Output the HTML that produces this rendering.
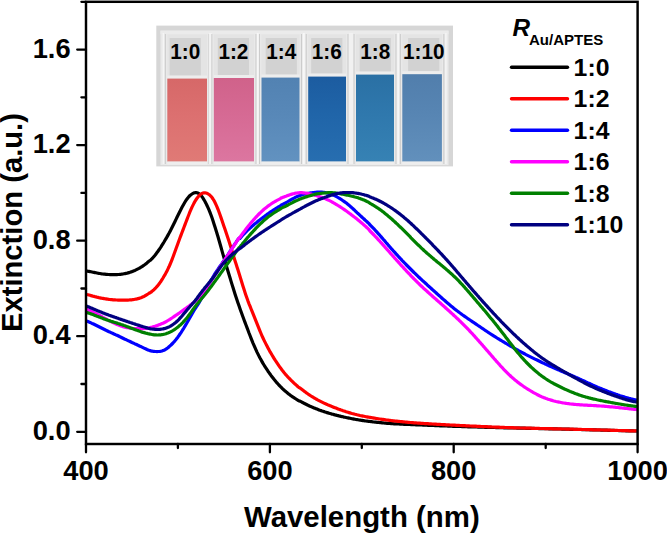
<!DOCTYPE html>
<html><head><meta charset="utf-8"><style>
html,body{margin:0;padding:0;background:#fff;}
body{width:667px;height:534px;overflow:hidden;position:relative;}
svg{position:absolute;left:0;top:0;}
text{font-family:"Liberation Sans",sans-serif;font-weight:bold;fill:#000;}
.tl{font-size:27.3px;}
.lg{font-size:24.8px;}
.cl{font-size:22.3px;}
.curves path{fill:none;stroke-width:3.2;stroke-linejoin:round;stroke-linecap:butt;}
</style></head><body>
<svg width="667" height="534" viewBox="0 0 667 534">
<g class="curves">
<path d="M86.0,270.9 L87.0,271.1 L88.0,271.3 L89.0,271.4 L90.0,271.6 L91.0,271.8 L92.0,272.0 L93.0,272.2 L94.0,272.4 L95.0,272.6 L96.0,272.8 L97.0,273.0 L98.0,273.2 L99.0,273.4 L100.0,273.5 L101.0,273.7 L102.0,273.9 L103.0,274.0 L104.0,274.1 L105.0,274.2 L106.0,274.3 L107.0,274.4 L108.0,274.5 L109.0,274.5 L110.0,274.6 L111.0,274.6 L112.0,274.6 L113.0,274.6 L114.0,274.6 L115.0,274.6 L116.0,274.6 L117.0,274.6 L118.0,274.5 L119.0,274.5 L120.0,274.4 L121.0,274.3 L122.0,274.1 L123.0,274.0 L124.0,273.8 L125.0,273.6 L126.0,273.4 L127.0,273.2 L128.0,272.9 L129.0,272.6 L130.0,272.3 L131.0,271.9 L132.0,271.6 L133.0,271.2 L134.0,270.8 L135.0,270.4 L136.0,269.9 L137.0,269.4 L138.0,268.9 L139.0,268.4 L140.0,267.8 L141.0,267.2 L142.0,266.6 L143.0,265.9 L144.0,265.2 L145.0,264.5 L146.0,263.7 L147.0,262.9 L148.0,262.0 L149.0,261.1 L150.0,260.5 L151.0,259.7 L152.0,258.7 L153.0,257.6 L154.0,256.4 L155.0,255.2 L156.0,253.9 L157.0,252.6 L158.0,251.2 L159.0,249.8 L160.0,248.3 L161.0,246.8 L162.0,245.2 L163.0,243.6 L164.0,242.0 L165.0,240.3 L166.0,238.6 L167.0,236.9 L168.0,235.1 L169.0,233.3 L170.0,231.4 L171.0,229.5 L172.0,227.5 L173.0,225.5 L174.0,223.5 L175.0,221.5 L176.0,219.4 L177.0,217.3 L178.0,215.3 L179.0,213.2 L180.0,211.2 L181.0,209.2 L182.0,207.3 L183.0,205.5 L184.0,203.7 L185.0,202.0 L186.0,200.4 L187.0,199.0 L188.0,197.7 L189.0,196.5 L190.0,195.5 L191.0,194.7 L192.0,194.0 L193.0,193.4 L194.0,192.9 L195.0,192.7 L196.0,192.6 L197.0,192.8 L198.0,193.1 L199.0,193.7 L200.0,194.5 L201.0,195.5 L202.0,196.7 L203.0,198.2 L204.0,199.8 L205.0,201.5 L206.0,203.4 L207.0,205.5 L208.0,207.6 L209.0,209.9 L210.0,212.4 L211.0,215.0 L212.0,217.8 L213.0,220.8 L214.0,223.9 L215.0,227.1 L216.0,230.3 L217.0,233.5 L218.0,236.8 L219.0,240.3 L220.0,243.8 L221.0,247.3 L222.0,250.9 L223.0,254.4 L224.0,257.8 L225.0,261.2 L226.0,264.6 L227.0,267.9 L228.0,271.3 L229.0,274.5 L230.0,277.8 L231.0,281.1 L232.0,284.4 L233.0,287.6 L234.0,290.8 L235.0,294.0 L236.0,297.0 L237.0,300.0 L238.0,302.9 L239.0,305.8 L240.0,308.7 L241.0,311.5 L242.0,314.3 L243.0,317.0 L244.0,319.7 L245.0,322.4 L246.0,325.0 L247.0,327.6 L248.0,330.3 L249.0,333.0 L250.0,335.5 L251.0,338.1 L252.0,340.6 L253.0,343.1 L254.0,345.4 L255.0,347.7 L256.0,349.9 L257.0,352.1 L258.0,354.1 L259.0,356.1 L260.0,358.0 L261.0,359.8 L262.0,361.6 L263.0,363.4 L264.0,365.0 L265.0,366.7 L266.0,368.2 L267.0,369.7 L268.0,371.2 L269.0,372.6 L270.0,374.0 L271.0,375.4 L272.0,376.7 L273.0,378.0 L274.0,379.3 L275.0,380.5 L276.0,381.7 L277.0,382.9 L278.0,384.0 L279.0,385.1 L280.0,386.2 L281.0,387.2 L282.0,388.2 L283.0,389.1 L284.0,390.1 L285.0,390.9 L286.0,391.8 L287.0,392.6 L288.0,393.4 L289.0,394.2 L290.0,394.9 L291.0,395.7 L292.0,396.4 L293.0,397.1 L294.0,397.7 L295.0,398.4 L296.0,399.0 L297.0,399.7 L298.0,400.3 L299.0,400.9 L300.0,401.1 L301.0,401.6 L302.0,402.2 L303.0,402.7 L304.0,403.3 L305.0,403.8 L306.0,404.3 L307.0,404.8 L308.0,405.3 L309.0,405.7 L310.0,406.2 L311.0,406.6 L312.0,407.1 L313.0,407.5 L314.0,407.9 L315.0,408.3 L316.0,408.7 L317.0,409.1 L318.0,409.5 L319.0,409.9 L320.0,410.3 L321.0,410.6 L322.0,411.0 L323.0,411.3 L324.0,411.6 L325.0,412.0 L326.0,412.3 L327.0,412.6 L328.0,412.9 L329.0,413.2 L330.0,413.5 L331.0,413.8 L332.0,414.1 L333.0,414.3 L334.0,414.6 L335.0,414.9 L336.0,415.1 L337.0,415.4 L338.0,415.6 L339.0,415.9 L340.0,416.1 L341.0,416.4 L342.0,416.6 L343.0,416.8 L344.0,417.1 L345.0,417.3 L346.0,417.5 L347.0,417.7 L348.0,417.9 L349.0,418.1 L350.0,418.3 L351.0,418.5 L352.0,418.7 L353.0,418.9 L354.0,419.1 L355.0,419.3 L356.0,419.5 L357.0,419.6 L358.0,419.8 L359.0,420.0 L360.0,420.1 L361.0,420.3 L362.0,420.4 L363.0,420.6 L364.0,420.7 L365.0,420.9 L366.0,421.0 L367.0,421.1 L368.0,421.3 L369.0,421.4 L370.0,421.5 L371.0,421.6 L372.0,421.7 L373.0,421.9 L374.0,422.0 L375.0,422.1 L376.0,422.2 L377.0,422.3 L378.0,422.4 L379.0,422.5 L380.0,422.6 L381.0,422.7 L382.0,422.8 L383.0,422.9 L384.0,423.0 L385.0,423.1 L386.0,423.2 L387.0,423.3 L388.0,423.3 L389.0,423.4 L390.0,423.5 L391.0,423.6 L392.0,423.6 L393.0,423.7 L394.0,423.8 L395.0,423.8 L396.0,423.9 L397.0,423.9 L398.0,424.0 L399.0,424.0 L400.0,424.1 L401.0,424.1 L402.0,424.2 L403.0,424.2 L404.0,424.3 L405.0,424.3 L406.0,424.3 L407.0,424.4 L408.0,424.4 L409.0,424.5 L410.0,424.5 L411.0,424.6 L412.0,424.6 L413.0,424.6 L414.0,424.7 L415.0,424.7 L416.0,424.8 L417.0,424.8 L418.0,424.9 L419.0,424.9 L420.0,424.9 L421.0,425.0 L422.0,425.0 L423.0,425.1 L424.0,425.1 L425.0,425.2 L426.0,425.2 L427.0,425.2 L428.0,425.3 L429.0,425.3 L430.0,425.4 L431.0,425.4 L432.0,425.4 L433.0,425.5 L434.0,425.5 L435.0,425.6 L436.0,425.6 L437.0,425.7 L438.0,425.7 L439.0,425.7 L440.0,425.8 L441.0,425.8 L442.0,425.9 L443.0,425.9 L444.0,425.9 L445.0,426.0 L446.0,426.0 L447.0,426.0 L448.0,426.1 L449.0,426.1 L450.0,426.2 L451.0,426.2 L452.0,426.2 L453.0,426.3 L454.0,426.3 L455.0,426.3 L456.0,426.4 L457.0,426.4 L458.0,426.4 L459.0,426.5 L460.0,426.5 L461.0,426.5 L462.0,426.6 L463.0,426.6 L464.0,426.6 L465.0,426.7 L466.0,426.7 L467.0,426.7 L468.0,426.8 L469.0,426.8 L470.0,426.8 L471.0,426.9 L472.0,426.9 L473.0,426.9 L474.0,427.0 L475.0,427.0 L476.0,427.0 L477.0,427.0 L478.0,427.1 L479.0,427.1 L480.0,427.1 L481.0,427.2 L482.0,427.2 L483.0,427.2 L484.0,427.2 L485.0,427.3 L486.0,427.3 L487.0,427.3 L488.0,427.4 L489.0,427.4 L490.0,427.4 L491.0,427.4 L492.0,427.5 L493.0,427.5 L494.0,427.5 L495.0,427.5 L496.0,427.6 L497.0,427.6 L498.0,427.6 L499.0,427.6 L500.0,427.7 L501.0,427.7 L502.0,427.7 L503.0,427.7 L504.0,427.8 L505.0,427.8 L506.0,427.8 L507.0,427.8 L508.0,427.9 L509.0,427.9 L510.0,427.9 L511.0,427.9 L512.0,427.9 L513.0,428.0 L514.0,428.0 L515.0,428.0 L516.0,428.0 L517.0,428.1 L518.0,428.1 L519.0,428.1 L520.0,428.1 L521.0,428.2 L522.0,428.2 L523.0,428.2 L524.0,428.2 L525.0,428.2 L526.0,428.3 L527.0,428.3 L528.0,428.3 L529.0,428.3 L530.0,428.4 L531.0,428.4 L532.0,428.4 L533.0,428.4 L534.0,428.4 L535.0,428.5 L536.0,428.5 L537.0,428.5 L538.0,428.5 L539.0,428.6 L540.0,428.6 L541.0,428.6 L542.0,428.6 L543.0,428.6 L544.0,428.7 L545.0,428.7 L546.0,428.7 L547.0,428.7 L548.0,428.7 L549.0,428.8 L550.0,428.8 L551.0,428.8 L552.0,428.8 L553.0,428.9 L554.0,428.9 L555.0,428.9 L556.0,428.9 L557.0,428.9 L558.0,429.0 L559.0,429.0 L560.0,429.0 L561.0,429.0 L562.0,429.1 L563.0,429.1 L564.0,429.1 L565.0,429.1 L566.0,429.2 L567.0,429.2 L568.0,429.2 L569.0,429.2 L570.0,429.3 L571.0,429.3 L572.0,429.3 L573.0,429.3 L574.0,429.4 L575.0,429.4 L576.0,429.4 L577.0,429.4 L578.0,429.5 L579.0,429.5 L580.0,429.5 L581.0,429.5 L582.0,429.6 L583.0,429.6 L584.0,429.6 L585.0,429.6 L586.0,429.7 L587.0,429.7 L588.0,429.7 L589.0,429.7 L590.0,429.8 L591.0,429.8 L592.0,429.8 L593.0,429.8 L594.0,429.9 L595.0,429.9 L596.0,429.9 L597.0,430.0 L598.0,430.0 L599.0,430.0 L600.0,430.0 L601.0,430.1 L602.0,430.1 L603.0,430.1 L604.0,430.1 L605.0,430.2 L606.0,430.2 L607.0,430.2 L608.0,430.3 L609.0,430.3 L610.0,430.3 L611.0,430.3 L612.0,430.4 L613.0,430.4 L614.0,430.4 L615.0,430.5 L616.0,430.5 L617.0,430.5 L618.0,430.5 L619.0,430.6 L620.0,430.6 L621.0,430.6 L622.0,430.7 L623.0,430.7 L624.0,430.7 L625.0,430.7 L626.0,430.8 L627.0,430.8 L628.0,430.8 L629.0,430.8 L630.0,430.9 L631.0,430.9 L632.0,430.9 L633.0,430.9 L634.0,431.0 L635.0,431.0 L636.0,431.0 L637.0,431.0" stroke="#000000"/>
<path d="M86.0,294.2 L87.0,294.5 L88.0,294.7 L89.0,295.0 L90.0,295.3 L91.0,295.6 L92.0,295.9 L93.0,296.2 L94.0,296.4 L95.0,296.7 L96.0,296.9 L97.0,297.2 L98.0,297.4 L99.0,297.7 L100.0,297.9 L101.0,298.1 L102.0,298.3 L103.0,298.4 L104.0,298.6 L105.0,298.8 L106.0,298.9 L107.0,299.1 L108.0,299.2 L109.0,299.4 L110.0,299.5 L111.0,299.6 L112.0,299.7 L113.0,299.8 L114.0,299.9 L115.0,299.9 L116.0,300.0 L117.0,300.0 L118.0,300.1 L119.0,300.1 L120.0,300.1 L121.0,300.1 L122.0,300.2 L123.0,300.2 L124.0,300.2 L125.0,300.1 L126.0,300.1 L127.0,300.1 L128.0,300.1 L129.0,300.0 L130.0,299.9 L131.0,299.9 L132.0,299.8 L133.0,299.6 L134.0,299.5 L135.0,299.3 L136.0,299.1 L137.0,298.9 L138.0,298.6 L139.0,298.4 L140.0,298.0 L141.0,297.7 L142.0,297.3 L143.0,296.8 L144.0,296.4 L145.0,295.8 L146.0,295.3 L147.0,294.6 L148.0,294.0 L149.0,293.3 L150.0,292.8 L151.0,292.2 L152.0,291.3 L153.0,290.5 L154.0,289.6 L155.0,288.6 L156.0,287.6 L157.0,286.4 L158.0,285.3 L159.0,284.0 L160.0,282.6 L161.0,281.2 L162.0,279.6 L163.0,278.0 L164.0,276.3 L165.0,274.6 L166.0,272.8 L167.0,270.9 L168.0,268.9 L169.0,266.8 L170.0,264.5 L171.0,262.2 L172.0,259.6 L173.0,257.0 L174.0,254.3 L175.0,251.5 L176.0,248.8 L177.0,246.0 L178.0,243.2 L179.0,240.5 L180.0,237.8 L181.0,235.1 L182.0,232.5 L183.0,229.9 L184.0,227.3 L185.0,224.6 L186.0,222.0 L187.0,219.4 L188.0,216.8 L189.0,214.2 L190.0,211.7 L191.0,209.4 L192.0,207.1 L193.0,205.1 L194.0,203.1 L195.0,201.3 L196.0,199.7 L197.0,198.3 L198.0,197.0 L199.0,195.8 L200.0,194.8 L201.0,194.0 L202.0,193.4 L203.0,193.0 L204.0,192.8 L205.0,192.8 L206.0,193.0 L207.0,193.3 L208.0,193.9 L209.0,194.5 L210.0,195.3 L211.0,196.3 L212.0,197.5 L213.0,199.0 L214.0,200.6 L215.0,202.5 L216.0,204.6 L217.0,206.8 L218.0,209.3 L219.0,212.0 L220.0,214.8 L221.0,217.6 L222.0,220.6 L223.0,223.5 L224.0,226.4 L225.0,229.3 L226.0,232.3 L227.0,235.2 L228.0,238.2 L229.0,241.3 L230.0,244.4 L231.0,247.6 L232.0,250.9 L233.0,254.2 L234.0,257.5 L235.0,260.7 L236.0,263.8 L237.0,266.9 L238.0,270.0 L239.0,273.2 L240.0,276.4 L241.0,279.7 L242.0,283.0 L243.0,286.2 L244.0,289.3 L245.0,292.4 L246.0,295.4 L247.0,298.2 L248.0,301.1 L249.0,303.8 L250.0,306.1 L251.0,308.7 L252.0,311.2 L253.0,313.7 L254.0,316.2 L255.0,318.7 L256.0,321.2 L257.0,323.7 L258.0,326.2 L259.0,328.7 L260.0,331.1 L261.0,333.5 L262.0,335.8 L263.0,338.0 L264.0,340.1 L265.0,342.1 L266.0,344.1 L267.0,346.0 L268.0,347.9 L269.0,349.8 L270.0,351.6 L271.0,353.3 L272.0,355.0 L273.0,356.7 L274.0,358.3 L275.0,359.9 L276.0,361.4 L277.0,362.9 L278.0,364.4 L279.0,365.9 L280.0,367.3 L281.0,368.6 L282.0,370.0 L283.0,371.2 L284.0,372.5 L285.0,373.7 L286.0,374.9 L287.0,376.0 L288.0,377.1 L289.0,378.1 L290.0,379.2 L291.0,380.2 L292.0,381.1 L293.0,382.1 L294.0,383.1 L295.0,384.0 L296.0,384.9 L297.0,385.8 L298.0,386.7 L299.0,387.5 L300.0,387.9 L301.0,388.7 L302.0,389.5 L303.0,390.3 L304.0,391.1 L305.0,391.8 L306.0,392.6 L307.0,393.3 L308.0,394.0 L309.0,394.7 L310.0,395.3 L311.0,396.0 L312.0,396.6 L313.0,397.2 L314.0,397.8 L315.0,398.4 L316.0,399.0 L317.0,399.5 L318.0,400.1 L319.0,400.6 L320.0,401.1 L321.0,401.6 L322.0,402.1 L323.0,402.6 L324.0,403.1 L325.0,403.6 L326.0,404.0 L327.0,404.4 L328.0,404.9 L329.0,405.3 L330.0,405.7 L331.0,406.1 L332.0,406.6 L333.0,407.0 L334.0,407.4 L335.0,407.7 L336.0,408.1 L337.0,408.5 L338.0,408.9 L339.0,409.3 L340.0,409.6 L341.0,410.0 L342.0,410.3 L343.0,410.7 L344.0,411.0 L345.0,411.3 L346.0,411.7 L347.0,412.0 L348.0,412.3 L349.0,412.6 L350.0,412.9 L351.0,413.2 L352.0,413.5 L353.0,413.7 L354.0,414.0 L355.0,414.3 L356.0,414.5 L357.0,414.8 L358.0,415.0 L359.0,415.2 L360.0,415.5 L361.0,415.7 L362.0,415.9 L363.0,416.1 L364.0,416.3 L365.0,416.5 L366.0,416.7 L367.0,416.9 L368.0,417.1 L369.0,417.2 L370.0,417.4 L371.0,417.6 L372.0,417.7 L373.0,417.9 L374.0,418.1 L375.0,418.2 L376.0,418.4 L377.0,418.5 L378.0,418.7 L379.0,418.9 L380.0,419.0 L381.0,419.2 L382.0,419.3 L383.0,419.4 L384.0,419.6 L385.0,419.7 L386.0,419.9 L387.0,420.0 L388.0,420.1 L389.0,420.3 L390.0,420.4 L391.0,420.5 L392.0,420.7 L393.0,420.8 L394.0,420.9 L395.0,421.0 L396.0,421.1 L397.0,421.2 L398.0,421.3 L399.0,421.4 L400.0,421.5 L401.0,421.6 L402.0,421.7 L403.0,421.8 L404.0,421.9 L405.0,422.0 L406.0,422.1 L407.0,422.2 L408.0,422.3 L409.0,422.4 L410.0,422.5 L411.0,422.5 L412.0,422.6 L413.0,422.7 L414.0,422.8 L415.0,422.9 L416.0,422.9 L417.0,423.0 L418.0,423.1 L419.0,423.2 L420.0,423.2 L421.0,423.3 L422.0,423.4 L423.0,423.4 L424.0,423.5 L425.0,423.6 L426.0,423.6 L427.0,423.7 L428.0,423.7 L429.0,423.8 L430.0,423.9 L431.0,423.9 L432.0,424.0 L433.0,424.0 L434.0,424.1 L435.0,424.2 L436.0,424.2 L437.0,424.3 L438.0,424.3 L439.0,424.4 L440.0,424.4 L441.0,424.5 L442.0,424.5 L443.0,424.6 L444.0,424.6 L445.0,424.7 L446.0,424.8 L447.0,424.8 L448.0,424.9 L449.0,424.9 L450.0,425.0 L451.0,425.0 L452.0,425.1 L453.0,425.1 L454.0,425.2 L455.0,425.2 L456.0,425.3 L457.0,425.3 L458.0,425.4 L459.0,425.4 L460.0,425.5 L461.0,425.5 L462.0,425.6 L463.0,425.6 L464.0,425.7 L465.0,425.7 L466.0,425.8 L467.0,425.8 L468.0,425.9 L469.0,425.9 L470.0,426.0 L471.0,426.0 L472.0,426.1 L473.0,426.1 L474.0,426.1 L475.0,426.2 L476.0,426.2 L477.0,426.3 L478.0,426.3 L479.0,426.4 L480.0,426.4 L481.0,426.5 L482.0,426.5 L483.0,426.6 L484.0,426.6 L485.0,426.6 L486.0,426.7 L487.0,426.7 L488.0,426.8 L489.0,426.8 L490.0,426.9 L491.0,426.9 L492.0,427.0 L493.0,427.0 L494.0,427.0 L495.0,427.1 L496.0,427.1 L497.0,427.2 L498.0,427.2 L499.0,427.2 L500.0,427.3 L501.0,427.3 L502.0,427.4 L503.0,427.4 L504.0,427.4 L505.0,427.5 L506.0,427.5 L507.0,427.5 L508.0,427.6 L509.0,427.6 L510.0,427.6 L511.0,427.7 L512.0,427.7 L513.0,427.7 L514.0,427.8 L515.0,427.8 L516.0,427.8 L517.0,427.9 L518.0,427.9 L519.0,427.9 L520.0,428.0 L521.0,428.0 L522.0,428.0 L523.0,428.0 L524.0,428.1 L525.0,428.1 L526.0,428.1 L527.0,428.1 L528.0,428.2 L529.0,428.2 L530.0,428.2 L531.0,428.2 L532.0,428.3 L533.0,428.3 L534.0,428.3 L535.0,428.3 L536.0,428.4 L537.0,428.4 L538.0,428.4 L539.0,428.4 L540.0,428.5 L541.0,428.5 L542.0,428.5 L543.0,428.5 L544.0,428.5 L545.0,428.6 L546.0,428.6 L547.0,428.6 L548.0,428.6 L549.0,428.7 L550.0,428.7 L551.0,428.7 L552.0,428.7 L553.0,428.8 L554.0,428.8 L555.0,428.8 L556.0,428.8 L557.0,428.8 L558.0,428.9 L559.0,428.9 L560.0,428.9 L561.0,428.9 L562.0,429.0 L563.0,429.0 L564.0,429.0 L565.0,429.0 L566.0,429.1 L567.0,429.1 L568.0,429.1 L569.0,429.1 L570.0,429.2 L571.0,429.2 L572.0,429.2 L573.0,429.2 L574.0,429.3 L575.0,429.3 L576.0,429.3 L577.0,429.3 L578.0,429.4 L579.0,429.4 L580.0,429.4 L581.0,429.4 L582.0,429.5 L583.0,429.5 L584.0,429.5 L585.0,429.5 L586.0,429.6 L587.0,429.6 L588.0,429.6 L589.0,429.7 L590.0,429.7 L591.0,429.7 L592.0,429.7 L593.0,429.8 L594.0,429.8 L595.0,429.8 L596.0,429.8 L597.0,429.9 L598.0,429.9 L599.0,429.9 L600.0,429.9 L601.0,430.0 L602.0,430.0 L603.0,430.0 L604.0,430.1 L605.0,430.1 L606.0,430.1 L607.0,430.1 L608.0,430.2 L609.0,430.2 L610.0,430.2 L611.0,430.3 L612.0,430.3 L613.0,430.3 L614.0,430.3 L615.0,430.4 L616.0,430.4 L617.0,430.4 L618.0,430.5 L619.0,430.5 L620.0,430.5 L621.0,430.5 L622.0,430.6 L623.0,430.6 L624.0,430.6 L625.0,430.6 L626.0,430.7 L627.0,430.7 L628.0,430.7 L629.0,430.8 L630.0,430.8 L631.0,430.8 L632.0,430.8 L633.0,430.8 L634.0,430.9 L635.0,430.9 L636.0,430.9 L637.0,430.9" stroke="#ff0000"/>
<path d="M86.0,320.8 L87.0,321.2 L88.0,321.6 L89.0,322.0 L90.0,322.4 L91.0,322.9 L92.0,323.4 L93.0,323.8 L94.0,324.3 L95.0,324.8 L96.0,325.3 L97.0,325.8 L98.0,326.3 L99.0,326.8 L100.0,327.3 L101.0,327.8 L102.0,328.3 L103.0,328.8 L104.0,329.3 L105.0,329.8 L106.0,330.3 L107.0,330.7 L108.0,331.2 L109.0,331.7 L110.0,332.1 L111.0,332.6 L112.0,333.1 L113.0,333.5 L114.0,334.0 L115.0,334.4 L116.0,334.9 L117.0,335.3 L118.0,335.8 L119.0,336.3 L120.0,336.8 L121.0,337.2 L122.0,337.7 L123.0,338.2 L124.0,338.7 L125.0,339.2 L126.0,339.6 L127.0,340.1 L128.0,340.6 L129.0,341.1 L130.0,341.5 L131.0,342.0 L132.0,342.5 L133.0,342.9 L134.0,343.4 L135.0,343.9 L136.0,344.3 L137.0,344.8 L138.0,345.3 L139.0,345.7 L140.0,346.2 L141.0,346.6 L142.0,347.1 L143.0,347.6 L144.0,348.1 L145.0,348.6 L146.0,349.0 L147.0,349.5 L148.0,349.9 L149.0,350.3 L150.0,350.6 L151.0,350.9 L152.0,351.1 L153.0,351.3 L154.0,351.4 L155.0,351.5 L156.0,351.5 L157.0,351.6 L158.0,351.5 L159.0,351.5 L160.0,351.4 L161.0,351.2 L162.0,351.0 L163.0,350.6 L164.0,350.2 L165.0,349.7 L166.0,349.1 L167.0,348.4 L168.0,347.7 L169.0,346.8 L170.0,345.9 L171.0,345.0 L172.0,344.0 L173.0,343.0 L174.0,341.9 L175.0,340.7 L176.0,339.5 L177.0,338.2 L178.0,336.9 L179.0,335.5 L180.0,334.0 L181.0,332.6 L182.0,331.0 L183.0,329.4 L184.0,327.8 L185.0,326.1 L186.0,324.4 L187.0,322.7 L188.0,321.0 L189.0,319.2 L190.0,317.5 L191.0,315.7 L192.0,313.9 L193.0,312.2 L194.0,310.5 L195.0,308.9 L196.0,307.3 L197.0,305.8 L198.0,304.3 L199.0,302.8 L200.0,301.0 L201.0,299.3 L202.0,297.6 L203.0,295.8 L204.0,293.9 L205.0,292.0 L206.0,290.1 L207.0,288.1 L208.0,286.2 L209.0,284.3 L210.0,282.4 L211.0,280.5 L212.0,278.7 L213.0,277.0 L214.0,275.3 L215.0,273.7 L216.0,272.1 L217.0,270.6 L218.0,269.2 L219.0,267.7 L220.0,266.3 L221.0,264.9 L222.0,263.5 L223.0,262.0 L224.0,260.6 L225.0,259.1 L226.0,257.6 L227.0,256.1 L228.0,254.6 L229.0,253.0 L230.0,251.5 L231.0,249.9 L232.0,248.4 L233.0,246.8 L234.0,245.3 L235.0,243.8 L236.0,242.4 L237.0,240.9 L238.0,239.5 L239.0,238.2 L240.0,238.3 L241.0,237.2 L242.0,236.0 L243.0,234.9 L244.0,233.9 L245.0,232.8 L246.0,231.8 L247.0,230.8 L248.0,229.9 L249.0,229.0 L250.0,228.1 L251.0,227.2 L252.0,226.3 L253.0,225.5 L254.0,224.6 L255.0,223.8 L256.0,223.0 L257.0,222.2 L258.0,221.3 L259.0,220.5 L260.0,219.8 L261.0,219.0 L262.0,218.2 L263.0,217.4 L264.0,216.7 L265.0,215.9 L266.0,215.2 L267.0,214.4 L268.0,213.7 L269.0,213.0 L270.0,212.3 L271.0,211.6 L272.0,211.0 L273.0,210.3 L274.0,209.7 L275.0,209.0 L276.0,208.4 L277.0,207.8 L278.0,207.2 L279.0,206.6 L280.0,206.0 L281.0,205.3 L282.0,204.8 L283.0,204.3 L284.0,203.7 L285.0,203.2 L286.0,202.6 L287.0,202.1 L288.0,201.5 L289.0,200.9 L290.0,200.3 L291.0,199.8 L292.0,199.2 L293.0,198.6 L294.0,198.1 L295.0,197.5 L296.0,197.1 L297.0,196.6 L298.0,196.2 L299.0,195.8 L300.0,195.4 L301.0,195.1 L302.0,194.8 L303.0,194.5 L304.0,194.3 L305.0,194.1 L306.0,193.8 L307.0,193.6 L308.0,193.4 L309.0,193.2 L310.0,193.1 L311.0,192.9 L312.0,192.8 L313.0,192.6 L314.0,192.5 L315.0,192.4 L316.0,192.3 L317.0,192.2 L318.0,192.2 L319.0,192.2 L320.0,192.2 L321.0,192.2 L322.0,192.2 L323.0,192.3 L324.0,192.4 L325.0,192.6 L326.0,192.7 L327.0,192.9 L328.0,193.2 L329.0,193.5 L330.0,193.8 L331.0,194.1 L332.0,194.5 L333.0,194.9 L334.0,195.4 L335.0,195.9 L336.0,196.4 L337.0,196.9 L338.0,197.5 L339.0,198.1 L340.0,198.7 L341.0,199.3 L342.0,200.0 L343.0,200.7 L344.0,201.4 L345.0,202.1 L346.0,202.8 L347.0,203.6 L348.0,204.4 L349.0,205.3 L350.0,206.1 L351.0,207.0 L352.0,207.9 L353.0,208.8 L354.0,209.7 L355.0,210.7 L356.0,211.6 L357.0,212.6 L358.0,213.5 L359.0,214.4 L360.0,215.4 L361.0,216.3 L362.0,217.2 L363.0,218.1 L364.0,219.0 L365.0,220.0 L366.0,220.9 L367.0,221.8 L368.0,222.7 L369.0,223.6 L370.0,224.9 L371.0,225.9 L372.0,226.9 L373.0,227.9 L374.0,228.9 L375.0,230.0 L376.0,231.1 L377.0,232.2 L378.0,233.3 L379.0,234.4 L380.0,235.5 L381.0,236.7 L382.0,237.8 L383.0,239.0 L384.0,240.1 L385.0,241.3 L386.0,242.5 L387.0,243.6 L388.0,244.8 L389.0,245.9 L390.0,247.1 L391.0,248.2 L392.0,249.4 L393.0,250.5 L394.0,251.6 L395.0,252.7 L396.0,253.8 L397.0,254.9 L398.0,256.0 L399.0,257.1 L400.0,258.2 L401.0,259.2 L402.0,260.3 L403.0,261.3 L404.0,262.4 L405.0,263.4 L406.0,264.5 L407.0,265.5 L408.0,266.5 L409.0,267.5 L410.0,268.5 L411.0,269.5 L412.0,270.5 L413.0,271.5 L414.0,272.5 L415.0,273.4 L416.0,274.4 L417.0,275.4 L418.0,276.3 L419.0,277.3 L420.0,278.2 L421.0,279.1 L422.0,280.1 L423.0,281.0 L424.0,281.9 L425.0,282.8 L426.0,283.7 L427.0,284.7 L428.0,285.6 L429.0,286.5 L430.0,287.4 L431.0,288.3 L432.0,289.2 L433.0,290.1 L434.0,291.0 L435.0,291.9 L436.0,292.8 L437.0,293.7 L438.0,294.6 L439.0,295.5 L440.0,296.4 L441.0,297.3 L442.0,298.2 L443.0,299.1 L444.0,299.9 L445.0,300.8 L446.0,301.7 L447.0,302.6 L448.0,303.4 L449.0,304.3 L450.0,305.1 L451.0,306.0 L452.0,306.8 L453.0,307.6 L454.0,308.4 L455.0,309.2 L456.0,310.0 L457.0,310.8 L458.0,311.5 L459.0,312.3 L460.0,313.0 L461.0,313.7 L462.0,314.5 L463.0,315.2 L464.0,315.9 L465.0,316.6 L466.0,317.3 L467.0,318.0 L468.0,318.7 L469.0,319.4 L470.0,320.0 L471.0,320.7 L472.0,321.4 L473.0,322.1 L474.0,322.7 L475.0,323.4 L476.0,324.1 L477.0,324.8 L478.0,325.5 L479.0,326.1 L480.0,326.8 L481.0,327.5 L482.0,328.2 L483.0,328.8 L484.0,329.5 L485.0,330.2 L486.0,330.9 L487.0,331.5 L488.0,332.2 L489.0,332.9 L490.0,333.5 L491.0,334.2 L492.0,334.8 L493.0,335.4 L494.0,336.1 L495.0,336.7 L496.0,337.3 L497.0,338.0 L498.0,338.6 L499.0,339.2 L500.0,339.8 L501.0,340.4 L502.0,341.0 L503.0,341.6 L504.0,342.2 L505.0,342.8 L506.0,343.4 L507.0,344.0 L508.0,344.6 L509.0,345.2 L510.0,345.8 L511.0,346.4 L512.0,346.9 L513.0,347.5 L514.0,348.1 L515.0,348.7 L516.0,349.2 L517.0,349.8 L518.0,350.3 L519.0,350.9 L520.0,351.4 L521.0,351.9 L522.0,352.5 L523.0,353.0 L524.0,353.5 L525.0,354.0 L526.0,354.6 L527.0,355.1 L528.0,355.6 L529.0,356.1 L530.0,356.6 L531.0,357.1 L532.0,357.6 L533.0,358.1 L534.0,358.6 L535.0,359.1 L536.0,359.6 L537.0,360.0 L538.0,360.5 L539.0,361.0 L540.0,361.5 L541.0,362.0 L542.0,362.5 L543.0,362.9 L544.0,363.4 L545.0,363.9 L546.0,364.3 L547.0,364.8 L548.0,365.3 L549.0,365.7 L550.0,366.2 L551.0,366.6 L552.0,367.1 L553.0,367.5 L554.0,367.9 L555.0,368.4 L556.0,368.8 L557.0,369.3 L558.0,369.7 L559.0,370.1 L560.0,370.5 L561.0,371.0 L562.0,371.4 L563.0,371.8 L564.0,372.2 L565.0,372.7 L566.0,373.1 L567.0,373.5 L568.0,373.9 L569.0,374.4 L570.0,374.8 L571.0,375.2 L572.0,375.6 L573.0,376.1 L574.0,376.5 L575.0,376.9 L576.0,377.4 L577.0,377.8 L578.0,378.3 L579.0,378.7 L580.0,379.2 L581.0,379.6 L582.0,380.1 L583.0,380.6 L584.0,381.0 L585.0,381.5 L586.0,382.0 L587.0,382.4 L588.0,382.9 L589.0,383.3 L590.0,383.8 L591.0,384.3 L592.0,384.7 L593.0,385.2 L594.0,385.6 L595.0,386.1 L596.0,386.5 L597.0,386.9 L598.0,387.4 L599.0,387.8 L600.0,388.2 L601.0,388.6 L602.0,389.0 L603.0,389.4 L604.0,389.8 L605.0,390.2 L606.0,390.6 L607.0,391.0 L608.0,391.4 L609.0,391.8 L610.0,392.1 L611.0,392.5 L612.0,392.9 L613.0,393.2 L614.0,393.6 L615.0,393.9 L616.0,394.3 L617.0,394.6 L618.0,395.0 L619.0,395.3 L620.0,395.7 L621.0,396.0 L622.0,396.3 L623.0,396.6 L624.0,396.9 L625.0,397.2 L626.0,397.5 L627.0,397.8 L628.0,398.1 L629.0,398.4 L630.0,398.6 L631.0,398.9 L632.0,399.1 L633.0,399.3 L634.0,399.5 L635.0,399.7 L636.0,399.9 L637.0,400.0" stroke="#0000ff"/>
<path d="M86.0,309.1 L87.0,309.5 L88.0,309.9 L89.0,310.3 L90.0,310.7 L91.0,311.1 L92.0,311.6 L93.0,312.1 L94.0,312.6 L95.0,313.1 L96.0,313.6 L97.0,314.1 L98.0,314.7 L99.0,315.2 L100.0,315.7 L101.0,316.3 L102.0,316.8 L103.0,317.4 L104.0,317.9 L105.0,318.5 L106.0,319.0 L107.0,319.5 L108.0,320.1 L109.0,320.6 L110.0,321.1 L111.0,321.6 L112.0,322.1 L113.0,322.6 L114.0,323.1 L115.0,323.5 L116.0,324.0 L117.0,324.4 L118.0,324.8 L119.0,325.2 L120.0,325.6 L121.0,325.9 L122.0,326.3 L123.0,326.6 L124.0,326.9 L125.0,327.2 L126.0,327.4 L127.0,327.6 L128.0,327.8 L129.0,328.0 L130.0,328.1 L131.0,328.3 L132.0,328.4 L133.0,328.5 L134.0,328.6 L135.0,328.6 L136.0,328.7 L137.0,328.7 L138.0,328.7 L139.0,328.7 L140.0,328.7 L141.0,328.8 L142.0,328.8 L143.0,328.7 L144.0,328.6 L145.0,328.5 L146.0,328.4 L147.0,328.2 L148.0,328.0 L149.0,327.9 L150.0,327.7 L151.0,327.4 L152.0,327.2 L153.0,326.9 L154.0,326.6 L155.0,326.3 L156.0,325.9 L157.0,325.6 L158.0,325.2 L159.0,324.8 L160.0,324.4 L161.0,324.0 L162.0,323.6 L163.0,323.2 L164.0,322.7 L165.0,322.2 L166.0,321.7 L167.0,321.1 L168.0,320.5 L169.0,319.9 L170.0,319.3 L171.0,318.6 L172.0,318.0 L173.0,317.3 L174.0,316.6 L175.0,315.9 L176.0,315.2 L177.0,314.6 L178.0,313.9 L179.0,313.2 L180.0,312.5 L181.0,311.8 L182.0,311.1 L183.0,310.4 L184.0,309.6 L185.0,308.9 L186.0,308.2 L187.0,307.4 L188.0,306.7 L189.0,306.0 L190.0,305.3 L191.0,304.5 L192.0,303.8 L193.0,303.0 L194.0,302.2 L195.0,301.4 L196.0,300.5 L197.0,299.5 L198.0,298.5 L199.0,297.4 L200.0,296.1 L201.0,294.9 L202.0,293.7 L203.0,292.4 L204.0,291.1 L205.0,289.7 L206.0,288.4 L207.0,287.0 L208.0,285.6 L209.0,284.1 L210.0,282.7 L211.0,281.2 L212.0,279.7 L213.0,278.2 L214.0,276.7 L215.0,275.2 L216.0,273.6 L217.0,272.0 L218.0,270.5 L219.0,268.9 L220.0,267.3 L221.0,265.8 L222.0,264.2 L223.0,262.6 L224.0,261.1 L225.0,259.5 L226.0,258.0 L227.0,256.4 L228.0,254.9 L229.0,253.4 L230.0,251.8 L231.0,250.3 L232.0,248.7 L233.0,247.2 L234.0,245.7 L235.0,244.1 L236.0,242.6 L237.0,241.0 L238.0,239.5 L239.0,238.0 L240.0,237.2 L241.0,235.8 L242.0,234.4 L243.0,233.0 L244.0,231.7 L245.0,230.4 L246.0,229.1 L247.0,227.8 L248.0,226.5 L249.0,225.3 L250.0,224.1 L251.0,222.8 L252.0,221.7 L253.0,220.5 L254.0,219.4 L255.0,218.2 L256.0,217.2 L257.0,216.1 L258.0,215.0 L259.0,214.0 L260.0,213.0 L261.0,212.1 L262.0,211.1 L263.0,210.2 L264.0,209.3 L265.0,208.5 L266.0,207.7 L267.0,206.9 L268.0,206.1 L269.0,205.4 L270.0,204.7 L271.0,204.0 L272.0,203.3 L273.0,202.7 L274.0,202.1 L275.0,201.5 L276.0,201.0 L277.0,200.4 L278.0,199.9 L279.0,199.4 L280.0,198.9 L281.0,198.1 L282.0,197.7 L283.0,197.3 L284.0,196.9 L285.0,196.5 L286.0,196.2 L287.0,195.8 L288.0,195.4 L289.0,195.1 L290.0,194.7 L291.0,194.4 L292.0,194.1 L293.0,193.8 L294.0,193.6 L295.0,193.3 L296.0,193.1 L297.0,193.0 L298.0,192.9 L299.0,192.8 L300.0,192.7 L301.0,192.7 L302.0,192.7 L303.0,192.8 L304.0,192.9 L305.0,193.0 L306.0,193.1 L307.0,193.3 L308.0,193.5 L309.0,193.7 L310.0,193.9 L311.0,194.1 L312.0,194.4 L313.0,194.6 L314.0,194.9 L315.0,195.2 L316.0,195.5 L317.0,195.8 L318.0,196.1 L319.0,196.4 L320.0,196.7 L321.0,197.1 L322.0,197.4 L323.0,197.8 L324.0,198.2 L325.0,198.6 L326.0,199.0 L327.0,199.5 L328.0,199.9 L329.0,200.4 L330.0,200.9 L331.0,201.4 L332.0,202.0 L333.0,202.5 L334.0,203.1 L335.0,203.7 L336.0,204.3 L337.0,204.9 L338.0,205.5 L339.0,206.1 L340.0,206.7 L341.0,207.4 L342.0,208.0 L343.0,208.7 L344.0,209.4 L345.0,210.1 L346.0,210.8 L347.0,211.5 L348.0,212.2 L349.0,213.0 L350.0,213.7 L351.0,214.4 L352.0,215.2 L353.0,216.0 L354.0,216.8 L355.0,217.5 L356.0,218.3 L357.0,219.1 L358.0,219.9 L359.0,220.8 L360.0,221.6 L361.0,222.4 L362.0,223.3 L363.0,224.1 L364.0,225.0 L365.0,225.9 L366.0,226.8 L367.0,227.7 L368.0,228.7 L369.0,229.7 L370.0,231.0 L371.0,232.0 L372.0,233.0 L373.0,234.0 L374.0,235.0 L375.0,236.1 L376.0,237.1 L377.0,238.2 L378.0,239.3 L379.0,240.4 L380.0,241.5 L381.0,242.6 L382.0,243.7 L383.0,244.8 L384.0,245.9 L385.0,247.1 L386.0,248.2 L387.0,249.3 L388.0,250.4 L389.0,251.6 L390.0,252.7 L391.0,253.9 L392.0,255.0 L393.0,256.1 L394.0,257.2 L395.0,258.4 L396.0,259.5 L397.0,260.6 L398.0,261.7 L399.0,262.8 L400.0,264.0 L401.0,265.1 L402.0,266.2 L403.0,267.2 L404.0,268.3 L405.0,269.4 L406.0,270.5 L407.0,271.6 L408.0,272.6 L409.0,273.7 L410.0,274.7 L411.0,275.8 L412.0,276.8 L413.0,277.8 L414.0,278.9 L415.0,279.9 L416.0,280.9 L417.0,281.9 L418.0,282.9 L419.0,283.8 L420.0,284.8 L421.0,285.8 L422.0,286.7 L423.0,287.7 L424.0,288.6 L425.0,289.5 L426.0,290.4 L427.0,291.3 L428.0,292.2 L429.0,293.1 L430.0,294.0 L431.0,294.9 L432.0,295.8 L433.0,296.7 L434.0,297.6 L435.0,298.4 L436.0,299.3 L437.0,300.2 L438.0,301.1 L439.0,302.0 L440.0,302.8 L441.0,303.7 L442.0,304.6 L443.0,305.5 L444.0,306.4 L445.0,307.3 L446.0,308.2 L447.0,309.1 L448.0,310.0 L449.0,310.9 L450.0,311.8 L451.0,312.7 L452.0,313.6 L453.0,314.5 L454.0,315.5 L455.0,316.4 L456.0,317.3 L457.0,318.3 L458.0,319.2 L459.0,320.2 L460.0,321.1 L461.0,322.1 L462.0,323.1 L463.0,324.1 L464.0,325.1 L465.0,326.1 L466.0,327.1 L467.0,328.1 L468.0,329.2 L469.0,330.2 L470.0,331.3 L471.0,332.4 L472.0,333.4 L473.0,334.5 L474.0,335.6 L475.0,336.7 L476.0,337.9 L477.0,339.0 L478.0,340.1 L479.0,341.2 L480.0,342.4 L481.0,343.5 L482.0,344.6 L483.0,345.8 L484.0,346.9 L485.0,348.1 L486.0,349.2 L487.0,350.4 L488.0,351.5 L489.0,352.7 L490.0,353.8 L491.0,355.0 L492.0,356.2 L493.0,357.3 L494.0,358.5 L495.0,359.6 L496.0,360.8 L497.0,361.9 L498.0,363.0 L499.0,364.1 L500.0,365.3 L501.0,366.4 L502.0,367.4 L503.0,368.5 L504.0,369.6 L505.0,370.6 L506.0,371.6 L507.0,372.6 L508.0,373.6 L509.0,374.6 L510.0,375.5 L511.0,376.5 L512.0,377.4 L513.0,378.3 L514.0,379.1 L515.0,380.0 L516.0,380.8 L517.0,381.6 L518.0,382.4 L519.0,383.1 L520.0,383.9 L521.0,384.6 L522.0,385.3 L523.0,386.0 L524.0,386.7 L525.0,387.4 L526.0,388.0 L527.0,388.7 L528.0,389.3 L529.0,389.9 L530.0,390.5 L531.0,391.1 L532.0,391.7 L533.0,392.3 L534.0,392.9 L535.0,393.4 L536.0,393.9 L537.0,394.5 L538.0,395.0 L539.0,395.5 L540.0,396.0 L541.0,396.4 L542.0,396.9 L543.0,397.3 L544.0,397.7 L545.0,398.1 L546.0,398.5 L547.0,398.8 L548.0,399.2 L549.0,399.5 L550.0,399.8 L551.0,400.1 L552.0,400.4 L553.0,400.7 L554.0,401.0 L555.0,401.2 L556.0,401.5 L557.0,401.7 L558.0,401.9 L559.0,402.1 L560.0,402.3 L561.0,402.5 L562.0,402.7 L563.0,402.9 L564.0,403.0 L565.0,403.2 L566.0,403.3 L567.0,403.5 L568.0,403.6 L569.0,403.7 L570.0,403.9 L571.0,404.0 L572.0,404.1 L573.0,404.2 L574.0,404.3 L575.0,404.4 L576.0,404.5 L577.0,404.6 L578.0,404.7 L579.0,404.7 L580.0,404.8 L581.0,404.9 L582.0,404.9 L583.0,405.0 L584.0,405.1 L585.0,405.1 L586.0,405.2 L587.0,405.2 L588.0,405.3 L589.0,405.3 L590.0,405.4 L591.0,405.4 L592.0,405.5 L593.0,405.5 L594.0,405.6 L595.0,405.7 L596.0,405.7 L597.0,405.8 L598.0,405.8 L599.0,405.9 L600.0,406.0 L601.0,406.0 L602.0,406.1 L603.0,406.2 L604.0,406.2 L605.0,406.3 L606.0,406.4 L607.0,406.5 L608.0,406.6 L609.0,406.7 L610.0,406.8 L611.0,406.9 L612.0,406.9 L613.0,407.0 L614.0,407.1 L615.0,407.2 L616.0,407.3 L617.0,407.4 L618.0,407.5 L619.0,407.7 L620.0,407.8 L621.0,407.9 L622.0,408.0 L623.0,408.1 L624.0,408.2 L625.0,408.3 L626.0,408.4 L627.0,408.5 L628.0,408.6 L629.0,408.8 L630.0,408.9 L631.0,409.0 L632.0,409.1 L633.0,409.2 L634.0,409.3 L635.0,409.4 L636.0,409.5 L637.0,409.6" stroke="#ff00ff"/>
<path d="M86.0,312.3 L87.0,312.6 L88.0,312.9 L89.0,313.2 L90.0,313.5 L91.0,313.9 L92.0,314.2 L93.0,314.6 L94.0,315.0 L95.0,315.4 L96.0,315.8 L97.0,316.2 L98.0,316.5 L99.0,316.9 L100.0,317.3 L101.0,317.7 L102.0,318.1 L103.0,318.5 L104.0,318.9 L105.0,319.2 L106.0,319.6 L107.0,319.9 L108.0,320.3 L109.0,320.6 L110.0,320.9 L111.0,321.3 L112.0,321.6 L113.0,321.9 L114.0,322.2 L115.0,322.5 L116.0,322.8 L117.0,323.1 L118.0,323.5 L119.0,323.8 L120.0,324.1 L121.0,324.5 L122.0,324.8 L123.0,325.1 L124.0,325.5 L125.0,325.8 L126.0,326.2 L127.0,326.6 L128.0,326.9 L129.0,327.3 L130.0,327.7 L131.0,328.1 L132.0,328.4 L133.0,328.8 L134.0,329.2 L135.0,329.6 L136.0,329.9 L137.0,330.3 L138.0,330.6 L139.0,331.0 L140.0,331.3 L141.0,331.8 L142.0,332.1 L143.0,332.4 L144.0,332.6 L145.0,332.9 L146.0,333.2 L147.0,333.4 L148.0,333.7 L149.0,333.9 L150.0,334.1 L151.0,334.3 L152.0,334.5 L153.0,334.7 L154.0,334.8 L155.0,334.9 L156.0,334.9 L157.0,335.0 L158.0,335.0 L159.0,334.9 L160.0,334.9 L161.0,334.8 L162.0,334.6 L163.0,334.5 L164.0,334.2 L165.0,334.0 L166.0,333.7 L167.0,333.3 L168.0,333.0 L169.0,332.6 L170.0,332.1 L171.0,331.6 L172.0,331.1 L173.0,330.5 L174.0,329.9 L175.0,329.2 L176.0,328.5 L177.0,327.8 L178.0,327.0 L179.0,326.1 L180.0,325.3 L181.0,324.3 L182.0,323.3 L183.0,322.3 L184.0,321.2 L185.0,320.1 L186.0,318.9 L187.0,317.7 L188.0,316.4 L189.0,315.1 L190.0,313.7 L191.0,312.4 L192.0,310.9 L193.0,309.5 L194.0,308.1 L195.0,306.7 L196.0,305.4 L197.0,304.1 L198.0,302.9 L199.0,301.7 L200.0,300.5 L201.0,299.3 L202.0,298.1 L203.0,296.9 L204.0,295.7 L205.0,294.5 L206.0,293.2 L207.0,292.0 L208.0,290.7 L209.0,289.4 L210.0,288.0 L211.0,286.7 L212.0,285.4 L213.0,284.0 L214.0,282.6 L215.0,281.3 L216.0,279.9 L217.0,278.5 L218.0,277.1 L219.0,275.7 L220.0,274.3 L221.0,272.9 L222.0,271.5 L223.0,270.1 L224.0,268.7 L225.0,267.3 L226.0,265.9 L227.0,264.5 L228.0,263.1 L229.0,261.7 L230.0,260.3 L231.0,258.9 L232.0,257.5 L233.0,256.1 L234.0,254.7 L235.0,253.3 L236.0,251.9 L237.0,250.5 L238.0,249.1 L239.0,247.7 L240.0,246.9 L241.0,245.6 L242.0,244.4 L243.0,243.1 L244.0,241.9 L245.0,240.7 L246.0,239.5 L247.0,238.3 L248.0,237.1 L249.0,236.0 L250.0,234.8 L251.0,233.7 L252.0,232.6 L253.0,231.5 L254.0,230.4 L255.0,229.3 L256.0,228.2 L257.0,227.2 L258.0,226.2 L259.0,225.2 L260.0,224.2 L261.0,223.2 L262.0,222.3 L263.0,221.3 L264.0,220.4 L265.0,219.6 L266.0,218.7 L267.0,217.9 L268.0,217.1 L269.0,216.3 L270.0,215.6 L271.0,214.9 L272.0,214.2 L273.0,213.5 L274.0,212.8 L275.0,212.2 L276.0,211.6 L277.0,210.9 L278.0,210.3 L279.0,209.8 L280.0,209.2 L281.0,208.4 L282.0,207.9 L283.0,207.4 L284.0,206.9 L285.0,206.5 L286.0,206.0 L287.0,205.5 L288.0,205.0 L289.0,204.4 L290.0,203.9 L291.0,203.4 L292.0,202.9 L293.0,202.3 L294.0,201.8 L295.0,201.3 L296.0,200.8 L297.0,200.4 L298.0,199.9 L299.0,199.5 L300.0,199.1 L301.0,198.7 L302.0,198.3 L303.0,197.9 L304.0,197.6 L305.0,197.2 L306.0,196.9 L307.0,196.6 L308.0,196.3 L309.0,196.0 L310.0,195.7 L311.0,195.4 L312.0,195.1 L313.0,194.8 L314.0,194.6 L315.0,194.3 L316.0,194.1 L317.0,193.9 L318.0,193.7 L319.0,193.6 L320.0,193.4 L321.0,193.3 L322.0,193.2 L323.0,193.1 L324.0,193.0 L325.0,192.9 L326.0,192.8 L327.0,192.8 L328.0,192.7 L329.0,192.7 L330.0,192.7 L331.0,192.7 L332.0,192.7 L333.0,192.8 L334.0,192.8 L335.0,192.9 L336.0,193.1 L337.0,193.2 L338.0,193.4 L339.0,193.5 L340.0,193.7 L341.0,193.9 L342.0,194.1 L343.0,194.3 L344.0,194.5 L345.0,194.7 L346.0,194.9 L347.0,195.1 L348.0,195.3 L349.0,195.5 L350.0,195.7 L351.0,196.0 L352.0,196.2 L353.0,196.4 L354.0,196.7 L355.0,197.0 L356.0,197.2 L357.0,197.5 L358.0,197.8 L359.0,198.2 L360.0,198.5 L361.0,198.9 L362.0,199.3 L363.0,199.7 L364.0,200.1 L365.0,200.5 L366.0,201.0 L367.0,201.5 L368.0,201.9 L369.0,202.5 L370.0,203.4 L371.0,203.9 L372.0,204.5 L373.0,205.0 L374.0,205.6 L375.0,206.3 L376.0,206.9 L377.0,207.6 L378.0,208.2 L379.0,208.9 L380.0,209.6 L381.0,210.3 L382.0,211.1 L383.0,211.8 L384.0,212.6 L385.0,213.4 L386.0,214.2 L387.0,215.0 L388.0,215.9 L389.0,216.7 L390.0,217.6 L391.0,218.4 L392.0,219.3 L393.0,220.2 L394.0,221.1 L395.0,222.0 L396.0,223.0 L397.0,223.9 L398.0,224.8 L399.0,225.8 L400.0,226.8 L401.0,227.7 L402.0,228.7 L403.0,229.7 L404.0,230.7 L405.0,231.7 L406.0,232.7 L407.0,233.7 L408.0,234.7 L409.0,235.7 L410.0,236.7 L411.0,237.8 L412.0,238.8 L413.0,239.8 L414.0,240.8 L415.0,241.8 L416.0,242.8 L417.0,243.8 L418.0,244.8 L419.0,245.7 L420.0,246.7 L421.0,247.7 L422.0,248.6 L423.0,249.5 L424.0,250.5 L425.0,251.4 L426.0,252.3 L427.0,253.2 L428.0,254.0 L429.0,254.9 L430.0,255.8 L431.0,256.6 L432.0,257.5 L433.0,258.3 L434.0,259.2 L435.0,260.0 L436.0,260.8 L437.0,261.7 L438.0,262.5 L439.0,263.3 L440.0,264.1 L441.0,264.9 L442.0,265.8 L443.0,266.6 L444.0,267.4 L445.0,268.3 L446.0,269.1 L447.0,270.0 L448.0,270.8 L449.0,271.7 L450.0,272.6 L451.0,273.5 L452.0,274.4 L453.0,275.3 L454.0,276.3 L455.0,277.2 L456.0,278.2 L457.0,279.2 L458.0,280.2 L459.0,281.2 L460.0,282.3 L461.0,283.4 L462.0,284.4 L463.0,285.5 L464.0,286.6 L465.0,287.8 L466.0,288.9 L467.0,290.0 L468.0,291.2 L469.0,292.3 L470.0,293.5 L471.0,294.7 L472.0,295.8 L473.0,297.0 L474.0,298.2 L475.0,299.3 L476.0,300.5 L477.0,301.7 L478.0,302.9 L479.0,304.0 L480.0,305.2 L481.0,306.4 L482.0,307.6 L483.0,308.8 L484.0,309.9 L485.0,311.1 L486.0,312.3 L487.0,313.5 L488.0,314.7 L489.0,315.9 L490.0,317.2 L491.0,318.4 L492.0,319.6 L493.0,320.8 L494.0,322.1 L495.0,323.3 L496.0,324.6 L497.0,325.8 L498.0,327.1 L499.0,328.4 L500.0,329.6 L501.0,330.9 L502.0,332.2 L503.0,333.5 L504.0,334.8 L505.0,336.1 L506.0,337.5 L507.0,338.8 L508.0,340.1 L509.0,341.4 L510.0,342.7 L511.0,344.0 L512.0,345.3 L513.0,346.6 L514.0,347.9 L515.0,349.2 L516.0,350.4 L517.0,351.7 L518.0,352.9 L519.0,354.1 L520.0,355.3 L521.0,356.5 L522.0,357.6 L523.0,358.7 L524.0,359.8 L525.0,360.9 L526.0,362.0 L527.0,363.0 L528.0,364.0 L529.0,365.0 L530.0,366.0 L531.0,367.0 L532.0,367.9 L533.0,368.8 L534.0,369.7 L535.0,370.6 L536.0,371.4 L537.0,372.3 L538.0,373.1 L539.0,373.9 L540.0,374.7 L541.0,375.4 L542.0,376.2 L543.0,376.9 L544.0,377.6 L545.0,378.3 L546.0,379.0 L547.0,379.6 L548.0,380.3 L549.0,380.9 L550.0,381.5 L551.0,382.1 L552.0,382.6 L553.0,383.2 L554.0,383.8 L555.0,384.3 L556.0,384.8 L557.0,385.3 L558.0,385.8 L559.0,386.3 L560.0,386.8 L561.0,387.3 L562.0,387.8 L563.0,388.3 L564.0,388.7 L565.0,389.2 L566.0,389.6 L567.0,390.1 L568.0,390.5 L569.0,390.9 L570.0,391.4 L571.0,391.8 L572.0,392.2 L573.0,392.6 L574.0,393.0 L575.0,393.4 L576.0,393.8 L577.0,394.1 L578.0,394.5 L579.0,394.9 L580.0,395.2 L581.0,395.5 L582.0,395.9 L583.0,396.2 L584.0,396.5 L585.0,396.8 L586.0,397.1 L587.0,397.3 L588.0,397.6 L589.0,397.9 L590.0,398.1 L591.0,398.4 L592.0,398.6 L593.0,398.9 L594.0,399.1 L595.0,399.3 L596.0,399.5 L597.0,399.8 L598.0,400.0 L599.0,400.2 L600.0,400.4 L601.0,400.6 L602.0,400.8 L603.0,401.0 L604.0,401.2 L605.0,401.4 L606.0,401.6 L607.0,401.8 L608.0,401.9 L609.0,402.1 L610.0,402.3 L611.0,402.5 L612.0,402.7 L613.0,402.8 L614.0,403.0 L615.0,403.2 L616.0,403.4 L617.0,403.5 L618.0,403.7 L619.0,403.9 L620.0,404.0 L621.0,404.2 L622.0,404.4 L623.0,404.5 L624.0,404.7 L625.0,404.9 L626.0,405.0 L627.0,405.2 L628.0,405.3 L629.0,405.5 L630.0,405.6 L631.0,405.8 L632.0,405.9 L633.0,406.0 L634.0,406.2 L635.0,406.3 L636.0,406.4 L637.0,406.5" stroke="#008000"/>
<path d="M86.0,306.0 L87.0,306.3 L88.0,306.7 L89.0,307.1 L90.0,307.5 L91.0,307.9 L92.0,308.3 L93.0,308.8 L94.0,309.2 L95.0,309.6 L96.0,310.1 L97.0,310.5 L98.0,310.9 L99.0,311.3 L100.0,311.7 L101.0,312.1 L102.0,312.5 L103.0,312.9 L104.0,313.3 L105.0,313.7 L106.0,314.1 L107.0,314.4 L108.0,314.8 L109.0,315.2 L110.0,315.5 L111.0,315.9 L112.0,316.2 L113.0,316.6 L114.0,316.9 L115.0,317.3 L116.0,317.6 L117.0,318.0 L118.0,318.3 L119.0,318.7 L120.0,319.0 L121.0,319.4 L122.0,319.7 L123.0,320.1 L124.0,320.4 L125.0,320.7 L126.0,321.1 L127.0,321.4 L128.0,321.8 L129.0,322.1 L130.0,322.5 L131.0,322.8 L132.0,323.1 L133.0,323.5 L134.0,323.8 L135.0,324.1 L136.0,324.5 L137.0,324.8 L138.0,325.1 L139.0,325.4 L140.0,325.7 L141.0,326.1 L142.0,326.4 L143.0,326.7 L144.0,327.0 L145.0,327.3 L146.0,327.6 L147.0,327.9 L148.0,328.2 L149.0,328.4 L150.0,328.7 L151.0,328.9 L152.0,329.0 L153.0,329.1 L154.0,329.2 L155.0,329.3 L156.0,329.3 L157.0,329.4 L158.0,329.4 L159.0,329.3 L160.0,329.3 L161.0,329.2 L162.0,329.0 L163.0,328.9 L164.0,328.6 L165.0,328.4 L166.0,328.1 L167.0,327.7 L168.0,327.3 L169.0,326.9 L170.0,326.4 L171.0,325.8 L172.0,325.2 L173.0,324.5 L174.0,323.8 L175.0,323.0 L176.0,322.2 L177.0,321.3 L178.0,320.3 L179.0,319.3 L180.0,318.2 L181.0,317.1 L182.0,316.0 L183.0,314.8 L184.0,313.6 L185.0,312.4 L186.0,311.2 L187.0,310.0 L188.0,308.8 L189.0,307.7 L190.0,306.5 L191.0,305.4 L192.0,304.3 L193.0,303.1 L194.0,302.0 L195.0,300.8 L196.0,299.5 L197.0,298.2 L198.0,296.8 L199.0,295.4 L200.0,294.1 L201.0,292.8 L202.0,291.4 L203.0,290.1 L204.0,288.9 L205.0,287.6 L206.0,286.4 L207.0,285.2 L208.0,284.0 L209.0,282.8 L210.0,281.6 L211.0,280.3 L212.0,279.1 L213.0,277.7 L214.0,276.4 L215.0,274.9 L216.0,273.5 L217.0,272.0 L218.0,270.6 L219.0,269.1 L220.0,267.7 L221.0,266.4 L222.0,265.0 L223.0,263.8 L224.0,262.6 L225.0,261.4 L226.0,260.3 L227.0,259.3 L228.0,258.3 L229.0,257.3 L230.0,256.4 L231.0,255.5 L232.0,254.6 L233.0,253.8 L234.0,252.9 L235.0,252.1 L236.0,251.4 L237.0,250.6 L238.0,249.8 L239.0,249.1 L240.0,248.5 L241.0,247.7 L242.0,246.9 L243.0,246.2 L244.0,245.4 L245.0,244.6 L246.0,243.8 L247.0,243.1 L248.0,242.3 L249.0,241.6 L250.0,240.8 L251.0,240.1 L252.0,239.3 L253.0,238.6 L254.0,237.9 L255.0,237.1 L256.0,236.4 L257.0,235.7 L258.0,235.0 L259.0,234.3 L260.0,233.6 L261.0,232.9 L262.0,232.2 L263.0,231.6 L264.0,230.9 L265.0,230.2 L266.0,229.6 L267.0,228.9 L268.0,228.3 L269.0,227.6 L270.0,227.0 L271.0,226.3 L272.0,225.7 L273.0,225.1 L274.0,224.4 L275.0,223.8 L276.0,223.2 L277.0,222.5 L278.0,221.9 L279.0,221.3 L280.0,220.7 L281.0,220.0 L282.0,219.3 L283.0,218.7 L284.0,218.1 L285.0,217.5 L286.0,216.9 L287.0,216.3 L288.0,215.8 L289.0,215.2 L290.0,214.6 L291.0,214.1 L292.0,213.5 L293.0,212.9 L294.0,212.4 L295.0,211.8 L296.0,211.3 L297.0,210.7 L298.0,210.2 L299.0,209.6 L300.0,209.1 L301.0,208.5 L302.0,208.0 L303.0,207.4 L304.0,206.9 L305.0,206.3 L306.0,205.8 L307.0,205.2 L308.0,204.7 L309.0,204.2 L310.0,203.7 L311.0,203.2 L312.0,202.7 L313.0,202.2 L314.0,201.7 L315.0,201.2 L316.0,200.8 L317.0,200.4 L318.0,200.0 L319.0,199.6 L320.0,199.2 L321.0,198.8 L322.0,198.4 L323.0,198.0 L324.0,197.7 L325.0,197.3 L326.0,197.0 L327.0,196.6 L328.0,196.3 L329.0,195.9 L330.0,195.6 L331.0,195.2 L332.0,194.9 L333.0,194.6 L334.0,194.3 L335.0,194.1 L336.0,193.8 L337.0,193.6 L338.0,193.4 L339.0,193.2 L340.0,193.1 L341.0,192.9 L342.0,192.8 L343.0,192.7 L344.0,192.6 L345.0,192.6 L346.0,192.5 L347.0,192.5 L348.0,192.5 L349.0,192.5 L350.0,192.5 L351.0,192.6 L352.0,192.6 L353.0,192.7 L354.0,192.8 L355.0,193.0 L356.0,193.1 L357.0,193.3 L358.0,193.4 L359.0,193.6 L360.0,193.8 L361.0,194.0 L362.0,194.3 L363.0,194.5 L364.0,194.8 L365.0,195.1 L366.0,195.3 L367.0,195.6 L368.0,195.9 L369.0,196.3 L370.0,196.9 L371.0,197.3 L372.0,197.7 L373.0,198.0 L374.0,198.5 L375.0,198.9 L376.0,199.3 L377.0,199.8 L378.0,200.2 L379.0,200.7 L380.0,201.2 L381.0,201.7 L382.0,202.3 L383.0,202.8 L384.0,203.4 L385.0,204.0 L386.0,204.5 L387.0,205.1 L388.0,205.8 L389.0,206.4 L390.0,207.0 L391.0,207.7 L392.0,208.3 L393.0,209.0 L394.0,209.7 L395.0,210.4 L396.0,211.1 L397.0,211.9 L398.0,212.6 L399.0,213.4 L400.0,214.1 L401.0,214.9 L402.0,215.7 L403.0,216.5 L404.0,217.4 L405.0,218.2 L406.0,219.1 L407.0,219.9 L408.0,220.8 L409.0,221.7 L410.0,222.6 L411.0,223.5 L412.0,224.5 L413.0,225.4 L414.0,226.3 L415.0,227.3 L416.0,228.3 L417.0,229.2 L418.0,230.2 L419.0,231.2 L420.0,232.2 L421.0,233.2 L422.0,234.1 L423.0,235.1 L424.0,236.1 L425.0,237.1 L426.0,238.2 L427.0,239.2 L428.0,240.2 L429.0,241.2 L430.0,242.2 L431.0,243.2 L432.0,244.2 L433.0,245.3 L434.0,246.3 L435.0,247.3 L436.0,248.4 L437.0,249.4 L438.0,250.5 L439.0,251.5 L440.0,252.6 L441.0,253.6 L442.0,254.7 L443.0,255.8 L444.0,256.9 L445.0,258.0 L446.0,259.1 L447.0,260.2 L448.0,261.3 L449.0,262.4 L450.0,263.6 L451.0,264.7 L452.0,265.9 L453.0,267.0 L454.0,268.2 L455.0,269.3 L456.0,270.5 L457.0,271.7 L458.0,272.9 L459.0,274.0 L460.0,275.2 L461.0,276.4 L462.0,277.6 L463.0,278.7 L464.0,279.9 L465.0,281.1 L466.0,282.3 L467.0,283.4 L468.0,284.6 L469.0,285.8 L470.0,286.9 L471.0,288.1 L472.0,289.2 L473.0,290.4 L474.0,291.6 L475.0,292.7 L476.0,293.8 L477.0,295.0 L478.0,296.1 L479.0,297.3 L480.0,298.4 L481.0,299.5 L482.0,300.7 L483.0,301.8 L484.0,302.9 L485.0,304.0 L486.0,305.1 L487.0,306.2 L488.0,307.3 L489.0,308.4 L490.0,309.5 L491.0,310.6 L492.0,311.7 L493.0,312.8 L494.0,313.9 L495.0,314.9 L496.0,316.0 L497.0,317.1 L498.0,318.1 L499.0,319.2 L500.0,320.2 L501.0,321.3 L502.0,322.3 L503.0,323.3 L504.0,324.4 L505.0,325.4 L506.0,326.4 L507.0,327.4 L508.0,328.4 L509.0,329.4 L510.0,330.4 L511.0,331.4 L512.0,332.3 L513.0,333.3 L514.0,334.3 L515.0,335.2 L516.0,336.2 L517.0,337.1 L518.0,338.0 L519.0,339.0 L520.0,339.9 L521.0,340.8 L522.0,341.7 L523.0,342.6 L524.0,343.5 L525.0,344.3 L526.0,345.2 L527.0,346.1 L528.0,346.9 L529.0,347.8 L530.0,348.6 L531.0,349.5 L532.0,350.3 L533.0,351.1 L534.0,351.9 L535.0,352.7 L536.0,353.5 L537.0,354.3 L538.0,355.0 L539.0,355.8 L540.0,356.5 L541.0,357.2 L542.0,358.0 L543.0,358.7 L544.0,359.3 L545.0,360.0 L546.0,360.7 L547.0,361.4 L548.0,362.0 L549.0,362.6 L550.0,363.3 L551.0,363.9 L552.0,364.5 L553.0,365.1 L554.0,365.7 L555.0,366.3 L556.0,366.9 L557.0,367.5 L558.0,368.1 L559.0,368.7 L560.0,369.3 L561.0,369.9 L562.0,370.4 L563.0,371.0 L564.0,371.6 L565.0,372.2 L566.0,372.7 L567.0,373.3 L568.0,373.9 L569.0,374.5 L570.0,375.0 L571.0,375.6 L572.0,376.2 L573.0,376.7 L574.0,377.3 L575.0,377.8 L576.0,378.4 L577.0,378.9 L578.0,379.5 L579.0,380.0 L580.0,380.6 L581.0,381.1 L582.0,381.6 L583.0,382.1 L584.0,382.7 L585.0,383.2 L586.0,383.7 L587.0,384.2 L588.0,384.7 L589.0,385.2 L590.0,385.7 L591.0,386.2 L592.0,386.6 L593.0,387.1 L594.0,387.6 L595.0,388.0 L596.0,388.5 L597.0,388.9 L598.0,389.4 L599.0,389.8 L600.0,390.2 L601.0,390.6 L602.0,391.0 L603.0,391.4 L604.0,391.8 L605.0,392.2 L606.0,392.6 L607.0,393.0 L608.0,393.4 L609.0,393.8 L610.0,394.1 L611.0,394.5 L612.0,394.9 L613.0,395.2 L614.0,395.6 L615.0,395.9 L616.0,396.3 L617.0,396.6 L618.0,397.0 L619.0,397.3 L620.0,397.7 L621.0,398.0 L622.0,398.3 L623.0,398.7 L624.0,399.0 L625.0,399.3 L626.0,399.6 L627.0,399.9 L628.0,400.1 L629.0,400.4 L630.0,400.7 L631.0,400.9 L632.0,401.1 L633.0,401.4 L634.0,401.6 L635.0,401.8 L636.0,402.0 L637.0,402.1" stroke="#000080"/>
</g>
<g stroke="#000" stroke-width="2.3" stroke-linecap="round">
<line x1="77.2" x2="86" y1="431.8" y2="431.8"/>
<line x1="77.2" x2="86" y1="336.2" y2="336.2"/>
<line x1="77.2" x2="86" y1="240.7" y2="240.7"/>
<line x1="77.2" x2="86" y1="145.1" y2="145.1"/>
<line x1="77.2" x2="86" y1="49.6" y2="49.6"/>
<line x1="81.4" x2="86" y1="384.0" y2="384.0"/>
<line x1="81.4" x2="86" y1="288.5" y2="288.5"/>
<line x1="81.4" x2="86" y1="192.9" y2="192.9"/>
<line x1="81.4" x2="86" y1="97.3" y2="97.3"/>
<line x1="81.4" x2="86" y1="1.8" y2="1.8"/>
<line x1="86.0" x2="86.0" y1="444" y2="452.3"/>
<line x1="269.9" x2="269.9" y1="444" y2="452.3"/>
<line x1="453.7" x2="453.7" y1="444" y2="452.3"/>
<line x1="637.6" x2="637.6" y1="444" y2="452.3"/>
<line x1="177.9" x2="177.9" y1="444" y2="448"/>
<line x1="361.8" x2="361.8" y1="444" y2="448"/>
<line x1="545.7" x2="545.7" y1="444" y2="448"/>
</g>
<rect x="86" y="1.8" width="551.6" height="442.2" fill="none" stroke="#000" stroke-width="2.45"/>
<g class="tl">
<text x="70.6" y="439.7" text-anchor="end">0.0</text>
<text x="70.6" y="344.1" text-anchor="end">0.4</text>
<text x="70.6" y="248.6" text-anchor="end">0.8</text>
<text x="70.6" y="153.0" text-anchor="end">1.2</text>
<text x="70.6" y="57.5" text-anchor="end">1.6</text>
<text x="86.0" y="480" text-anchor="middle">400</text>
<text x="269.9" y="480" text-anchor="middle">600</text>
<text x="453.7" y="480" text-anchor="middle">800</text>
<text x="637.6" y="480" text-anchor="middle">1000</text>
</g>
<text x="244" y="527" style="font-size:29.4px">Wavelength (nm)</text>
<text transform="translate(22.1,332) rotate(-90)" style="font-size:29.2px">Extinction (a.u.)</text>
<text x="512.4" y="35.9" style="font-size:24.3px;font-style:italic">R</text>
<text x="529" y="45.1" style="font-size:15px">Au/APTES</text>
<line x1="511.5" x2="567.5" y1="67.3" y2="67.3" stroke="#000000" stroke-width="3.4" stroke-linecap="round"/>
<text x="573.6" y="75.9" class="lg">1:0</text>
<line x1="511.5" x2="567.5" y1="98.8" y2="98.8" stroke="#ff0000" stroke-width="3.4" stroke-linecap="round"/>
<text x="573.6" y="107.4" class="lg">1:2</text>
<line x1="511.5" x2="567.5" y1="130.3" y2="130.3" stroke="#0000ff" stroke-width="3.4" stroke-linecap="round"/>
<text x="573.6" y="138.9" class="lg">1:4</text>
<line x1="511.5" x2="567.5" y1="161.8" y2="161.8" stroke="#ff00ff" stroke-width="3.4" stroke-linecap="round"/>
<text x="573.6" y="170.4" class="lg">1:6</text>
<line x1="511.5" x2="567.5" y1="193.3" y2="193.3" stroke="#008000" stroke-width="3.4" stroke-linecap="round"/>
<text x="573.6" y="201.9" class="lg">1:8</text>
<line x1="511.5" x2="567.5" y1="224.8" y2="224.8" stroke="#000080" stroke-width="3.4" stroke-linecap="round"/>
<text x="573.6" y="233.4" class="lg">1:10</text>
<defs>
<linearGradient id="lg0" x1="0" y1="0" x2="0" y2="1"><stop offset="0" stop-color="#d66868"/><stop offset="0.45" stop-color="#dc7070"/><stop offset="1" stop-color="#e07a76"/></linearGradient>
<linearGradient id="lg1" x1="0" y1="0" x2="0" y2="1"><stop offset="0" stop-color="#d0628a"/><stop offset="0.45" stop-color="#d66a94"/><stop offset="1" stop-color="#dc76a0"/></linearGradient>
<linearGradient id="lg2" x1="0" y1="0" x2="0" y2="1"><stop offset="0" stop-color="#5282b2"/><stop offset="0.45" stop-color="#5888b8"/><stop offset="1" stop-color="#6292c0"/></linearGradient>
<linearGradient id="lg3" x1="0" y1="0" x2="0" y2="1"><stop offset="0" stop-color="#1c5ca0"/><stop offset="0.45" stop-color="#2065a9"/><stop offset="1" stop-color="#276eb0"/></linearGradient>
<linearGradient id="lg4" x1="0" y1="0" x2="0" y2="1"><stop offset="0" stop-color="#2a70a4"/><stop offset="0.45" stop-color="#2f78ad"/><stop offset="1" stop-color="#3682b4"/></linearGradient>
<linearGradient id="lg5" x1="0" y1="0" x2="0" y2="1"><stop offset="0" stop-color="#517eac"/><stop offset="0.45" stop-color="#5785b3"/><stop offset="1" stop-color="#6290bc"/></linearGradient>
</defs>
<rect x="156.3" y="25.6" width="296.7" height="140.8" fill="#d6d6d6"/>
<rect x="160.5" y="30.6" width="288" height="134.5" fill="#e9e9e9"/>
<rect x="160.5" y="30.6" width="288" height="3.6" fill="#ebebeb"/>
<rect x="162.7" y="33" width="1.2" height="131" fill="#f7f7f7"/>
<rect x="210.4" y="33" width="1.2" height="131" fill="#f7f7f7"/>
<rect x="164.9" y="34" width="0.9" height="130" fill="#c9c9c9"/>
<rect x="208.5" y="34" width="0.9" height="130" fill="#c9c9c9"/>
<rect x="167.3" y="34.4" width="39.7" height="44.2" fill="#e4e4e4"/>
<rect x="169.6" y="38" width="31.2" height="37.6" fill="#d2d2d2"/>
<rect x="167.3" y="75.6" width="39.7" height="3" fill="#ededed"/>
<rect x="167.3" y="78.6" width="39.7" height="83.0" fill="url(#lg0)"/>
<rect x="167.3" y="161.6" width="39.7" height="3" fill="#eeeeee"/>
<text x="0" y="0" text-anchor="middle" class="cl" transform="translate(185.2,59.1) scale(0.93,1)">1:0</text>
<rect x="209.2" y="33" width="1.2" height="131" fill="#f7f7f7"/>
<rect x="257.4" y="33" width="1.2" height="131" fill="#f7f7f7"/>
<rect x="211.4" y="34" width="0.9" height="130" fill="#c9c9c9"/>
<rect x="255.5" y="34" width="0.9" height="130" fill="#c9c9c9"/>
<rect x="213.8" y="34.4" width="40.2" height="43.6" fill="#e4e4e4"/>
<rect x="217.8" y="38" width="31.2" height="37.0" fill="#d2d2d2"/>
<rect x="213.8" y="75.0" width="40.2" height="3" fill="#ededed"/>
<rect x="213.8" y="78.0" width="40.2" height="83.6" fill="url(#lg1)"/>
<rect x="213.8" y="161.6" width="40.2" height="3" fill="#eeeeee"/>
<text x="0" y="0" text-anchor="middle" class="cl" transform="translate(233.4,59.1) scale(0.93,1)">1:2</text>
<rect x="256.9" y="33" width="1.2" height="131" fill="#f7f7f7"/>
<rect x="302.9" y="33" width="1.2" height="131" fill="#f7f7f7"/>
<rect x="259.1" y="34" width="0.9" height="130" fill="#c9c9c9"/>
<rect x="301.0" y="34" width="0.9" height="130" fill="#c9c9c9"/>
<rect x="261.5" y="34.4" width="38.0" height="43.2" fill="#e4e4e4"/>
<rect x="265.7" y="38" width="31.2" height="36.6" fill="#d2d2d2"/>
<rect x="261.5" y="74.6" width="38.0" height="3" fill="#ededed"/>
<rect x="261.5" y="77.6" width="38.0" height="84.0" fill="url(#lg2)"/>
<rect x="261.5" y="161.6" width="38.0" height="3" fill="#eeeeee"/>
<text x="0" y="0" text-anchor="middle" class="cl" transform="translate(281.3,59.1) scale(0.93,1)">1:4</text>
<rect x="303.6" y="33" width="1.2" height="131" fill="#f7f7f7"/>
<rect x="349.4" y="33" width="1.2" height="131" fill="#f7f7f7"/>
<rect x="305.8" y="34" width="0.9" height="130" fill="#c9c9c9"/>
<rect x="347.5" y="34" width="0.9" height="130" fill="#c9c9c9"/>
<rect x="308.2" y="34.4" width="37.8" height="42.2" fill="#e4e4e4"/>
<rect x="311.2" y="38" width="31.2" height="35.6" fill="#d2d2d2"/>
<rect x="308.2" y="73.6" width="37.8" height="3" fill="#ededed"/>
<rect x="308.2" y="76.6" width="37.8" height="85.0" fill="url(#lg3)"/>
<rect x="308.2" y="161.6" width="37.8" height="3" fill="#eeeeee"/>
<text x="0" y="0" text-anchor="middle" class="cl" transform="translate(326.8,59.1) scale(0.93,1)">1:6</text>
<rect x="351.4" y="33" width="1.2" height="131" fill="#f7f7f7"/>
<rect x="397.4" y="33" width="1.2" height="131" fill="#f7f7f7"/>
<rect x="353.6" y="34" width="0.9" height="130" fill="#c9c9c9"/>
<rect x="395.5" y="34" width="0.9" height="130" fill="#c9c9c9"/>
<rect x="356.0" y="34.4" width="38.0" height="40.2" fill="#e4e4e4"/>
<rect x="359.7" y="38" width="31.2" height="33.6" fill="#d2d2d2"/>
<rect x="356.0" y="71.6" width="38.0" height="3" fill="#ededed"/>
<rect x="356.0" y="74.6" width="38.0" height="87.0" fill="url(#lg4)"/>
<rect x="356.0" y="161.6" width="38.0" height="3" fill="#eeeeee"/>
<text x="0" y="0" text-anchor="middle" class="cl" transform="translate(375.3,59.1) scale(0.93,1)">1:8</text>
<rect x="397.7" y="33" width="1.2" height="131" fill="#f7f7f7"/>
<rect x="445.3" y="33" width="1.2" height="131" fill="#f7f7f7"/>
<rect x="399.9" y="34" width="0.9" height="130" fill="#c9c9c9"/>
<rect x="443.4" y="34" width="0.9" height="130" fill="#c9c9c9"/>
<rect x="402.3" y="34.4" width="39.6" height="39.8" fill="#e4e4e4"/>
<rect x="408.1" y="38" width="31.2" height="33.2" fill="#d2d2d2"/>
<rect x="402.3" y="71.2" width="39.6" height="3" fill="#ededed"/>
<rect x="402.3" y="74.2" width="39.6" height="87.4" fill="url(#lg5)"/>
<rect x="402.3" y="161.6" width="39.6" height="3" fill="#eeeeee"/>
<text x="0" y="0" text-anchor="middle" class="cl" transform="translate(423.7,59.1) scale(0.93,1)">1:10</text>
</svg>
</body></html>
